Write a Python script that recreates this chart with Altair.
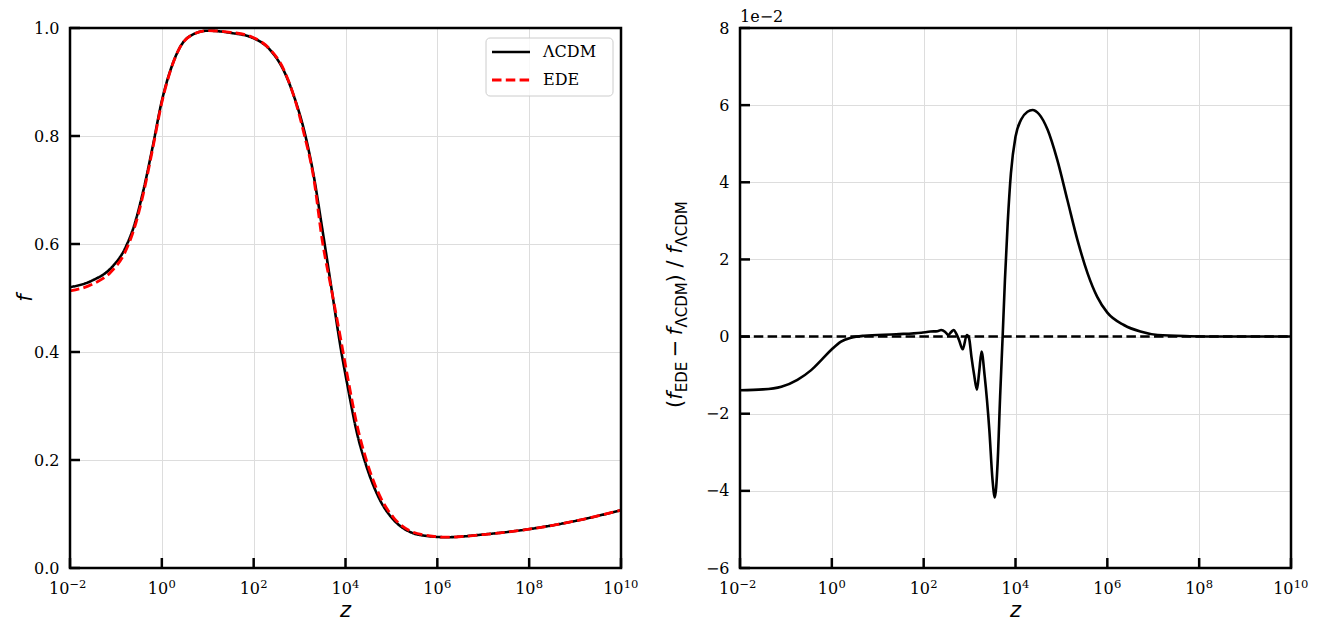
import altair as alt
import pandas as pd

# ---------------- data ----------------
left_logz = [-2, -1.5, -1.1, -0.8, -0.6, -0.4, -0.2, 0, 0.2, 0.4, 0.7, 1.0, 1.5, 2.0,
             2.35, 2.65, 2.9, 3.1, 3.3, 3.5, 3.7, 3.9, 4.05, 4.25, 4.45, 4.75, 5.05,
             5.4, 5.8, 6.2, 7.0, 8.0, 9.0, 10.0]
f_lcdm = [0.520, 0.533, 0.556, 0.592, 0.635, 0.700, 0.780, 0.865, 0.925, 0.965, 0.989,
          0.995, 0.991, 0.981, 0.960, 0.922, 0.868, 0.810, 0.730, 0.625, 0.515, 0.405,
          0.335, 0.250, 0.190, 0.126, 0.089, 0.067, 0.059, 0.057, 0.062, 0.072, 0.087, 0.107]
f_ede = [0.513, 0.526, 0.549, 0.585, 0.629, 0.694, 0.776, 0.862, 0.924, 0.965, 0.989,
         0.995, 0.992, 0.982, 0.961, 0.924, 0.867, 0.803, 0.726, 0.603, 0.513, 0.422,
         0.352, 0.265, 0.201, 0.133, 0.093, 0.069, 0.060, 0.057, 0.062, 0.072, 0.087, 0.107]

ratio_logz = [-2, -1.5, -1.1, -0.75, -0.45, -0.23, 0.0, 0.2, 0.42, 0.7, 1.4, 1.95, 2.15,
              2.3, 2.38, 2.47, 2.535, 2.6, 2.652, 2.72, 2.77, 2.85, 2.94, 2.99, 3.04,
              3.10, 3.16, 3.21, 3.26, 3.33, 3.43, 3.50, 3.55, 3.61, 3.665, 3.72, 3.77,
              3.83, 3.90, 4.0, 4.12, 4.26, 4.37, 4.51, 4.70, 4.91, 5.13, 5.35, 5.57,
              5.78, 6.0, 6.36, 6.72, 7.1, 7.8, 8.5, 10.0]
ratio_val = [-1.39, -1.37, -1.30, -1.12, -0.87, -0.61, -0.33, -0.13, -0.03, 0.02, 0.06,
             0.10, 0.13, 0.14, 0.17, 0.12, 0.04, 0.12, 0.17, 0.05, -0.09, -0.33, 0.04,
             -0.05, -0.52, -1.0, -1.38, -0.9, -0.39, -1.04, -2.42, -3.72, -4.17, -3.28,
             -1.56, 0.0, 1.47, 2.94, 4.23, 5.18, 5.62, 5.83, 5.875, 5.77, 5.36, 4.58,
             3.54, 2.5, 1.64, 1.03, 0.62, 0.30, 0.13, 0.04, 0.01, 0.0, 0.0]

x_ticks = [1e-2, 1e0, 1e2, 1e4, 1e6, 1e8, 1e10]
x_tick_exp = ["−2", "0", "2", "4", "6", "8", "10"]
y_ticks_left = [0.0, 0.2, 0.4, 0.6, 0.8, 1.0]
y_ticks_right = [-6, -4, -2, 0, 2, 4, 6, 8]
series = ["ΛCDM", "EDE"]

# ---------------- tables ----------------
left_df = pd.concat([
    pd.DataFrame({"z": [10 ** e for e in left_logz], "f": f_lcdm, "s": series[0]}),
    pd.DataFrame({"z": [10 ** e for e in left_logz], "f": f_ede, "s": series[1]}),
])
ratio_df = pd.DataFrame({"z": [10 ** e for e in ratio_logz], "r": ratio_val})
zero_df = pd.DataFrame({"z": [x_ticks[0], x_ticks[-1]], "r": [0, 0]})
xt_df = pd.DataFrame({"z": x_ticks, "base": "10", "sup": x_tick_exp,
                      "n": [len(s) for s in x_tick_exp]})
ylt_df = pd.DataFrame({"f": y_ticks_left})
yrt_df = pd.DataFrame({"r": y_ticks_right})
one = pd.DataFrame({"a": [0]})

W, H = 551, 540
SERIF = "DejaVu Serif"
SANS = "DejaVu Sans"
DASH = [9.5, 4.3]
TICK_COLOR = "black"
TICK_LEN = 10

xscale = alt.Scale(type="log", domain=[1e-2, 1e10], nice=False)
xaxis = alt.Axis(values=x_ticks, labels=False, title=None, grid=True, ticks=False, domain=False)
X = alt.X("z:Q", scale=xscale, axis=xaxis)


def yaxis(vals, fmt):
    return alt.Axis(values=vals, format=fmt, title=None, grid=True, ticks=False,
                    domain=False, labelFont=SERIF, labelFontSize=16, labelPadding=11,
                    labelColor="black")


YL = alt.Y("f:Q", scale=alt.Scale(domain=[0, 1], nice=False), axis=yaxis(y_ticks_left, ".1f"))
YR = alt.Y("r:Q", scale=alt.Scale(domain=[-6, 8], nice=False), axis=yaxis(y_ticks_right, "d"))


def frame_ticks_labels(yenc, ydf):
    layers = []
    layers.append(alt.Chart(ydf).mark_rule(color=TICK_COLOR, strokeWidth=2.5).encode(
        y=yenc, x=alt.value(0), x2=alt.value(TICK_LEN)))
    layers.append(alt.Chart(xt_df).mark_rule(color=TICK_COLOR, strokeWidth=2.5).encode(
        x=X, y=alt.value(H - TICK_LEN), y2=alt.value(H)))
    layers.append(alt.Chart(one).mark_rect(fill=None, stroke="black", strokeWidth=2.5).encode(
        x=alt.value(0), x2=alt.value(W), y=alt.value(0), y2=alt.value(H)))
    groups = [("datum.sup == '−2'", -10.8, -0.6),
              ("datum.n == 1", -3.8, 6.6),
              ("datum.sup == '10'", -7.7, 2.7)]
    for cond, dxb, dxs in groups:
        base = alt.Chart(xt_df).transform_filter(cond).mark_text(
            font=SERIF, fontSize=16, align="center", baseline="alphabetic", dx=dxb,
            color="black").encode(x=X, y=alt.value(H + 26), text="base:N")
        sup = alt.Chart(xt_df).transform_filter(cond).mark_text(
            font=SERIF, fontSize=11.5, align="left", baseline="alphabetic", dx=dxs,
            color="black").encode(x=X, y=alt.value(H + 20), text="sup:N")
        layers += [base, sup]
    layers.append(alt.Chart(one).mark_text(text="z", font=SANS, fontStyle="italic",
                                           fontSize=21, align="center", baseline="alphabetic",
                                           color="black").encode(
        x=alt.value(W / 2), y=alt.value(H + 49)))
    return layers


# ---------------- left panel ----------------
lines = alt.Chart(left_df).mark_line(interpolate="monotone").encode(
    x=X, y=YL,
    color=alt.Color("s:N", scale=alt.Scale(domain=series, range=["black", "red"]), legend=None),
    strokeDash=alt.StrokeDash("s:N", scale=alt.Scale(domain=series, range=[[1, 0], DASH]), legend=None),
    strokeWidth=alt.StrokeWidth("s:N", scale=alt.Scale(domain=series, range=[2.6, 2.8]), legend=None),
    order=alt.Order("z:Q"),
)
f_title = alt.Chart(one).mark_text(text="f", font=SANS, fontStyle="italic", fontSize=21,
                                   angle=270, align="center", baseline="middle",
                                   color="black").encode(x=alt.value(-44), y=alt.value(270))
leg_box = alt.Chart(one).mark_rect(fill="white", fillOpacity=0.8, stroke="#cccccc",
                                   strokeWidth=1, cornerRadius=4).encode(
    x=alt.value(416), x2=alt.value(543), y=alt.value(10), y2=alt.value(68))
leg_l1 = alt.Chart(one).mark_rule(color="black", strokeWidth=2.6).encode(
    x=alt.value(422), x2=alt.value(460), y=alt.value(24))
leg_l2 = alt.Chart(one).mark_rule(color="red", strokeWidth=2.8, strokeDash=DASH).encode(
    x=alt.value(422), x2=alt.value(460), y=alt.value(52))
leg_t1 = alt.Chart(one).mark_text(text=series[0], font=SERIF, fontSize=16, align="left",
                                  baseline="middle", color="black").encode(
    x=alt.value(473), y=alt.value(24))
leg_t2 = alt.Chart(one).mark_text(text=series[1], font=SERIF, fontSize=16, align="left",
                                  baseline="middle", color="black").encode(
    x=alt.value(473), y=alt.value(52))

left = alt.layer(lines, *frame_ticks_labels(YL, ylt_df), f_title, leg_box, leg_l1, leg_l2,
                 leg_t1, leg_t2).properties(width=W, height=H)

# ---------------- right panel ----------------
zero = alt.Chart(zero_df).mark_line(color="black", strokeWidth=2.5, strokeDash=DASH).encode(x=X, y=YR)
curve = alt.Chart(ratio_df).mark_line(color="black", strokeWidth=2.6, interpolate="monotone").encode(
    x=X, y=YR, order=alt.Order("z:Q"))
offset_txt = alt.Chart(one).mark_text(text="1e−2", font=SERIF, fontSize=16, align="left",
                                      baseline="alphabetic", color="black").encode(
    x=alt.value(0), y=alt.value(-6))

pieces = [("(", False, False, 376), ("f", False, True, 368), ("EDE", True, False, 349),
          ("−", False, False, 320.5), ("f", False, True, 303.5), ("ΛCDM", True, False, 277),
          (")", False, False, 250.5), ("/", False, False, 236), ("f", False, True, 222),
          ("ΛCDM", True, False, 196)]
title_layers = []
for txt, sub, ital, yc in pieces:
    title_layers.append(
        alt.Chart(one).mark_text(text=txt, font=SANS, fontStyle="italic" if ital else "normal",
                                 fontSize=15 if sub else 21, angle=270, align="center",
                                 baseline="middle", color="black").encode(
            x=alt.value(-58 if sub else -64), y=alt.value(yc)))

right = alt.layer(zero, curve, *frame_ticks_labels(YR, yrt_df), offset_txt,
                  *title_layers).properties(width=W, height=H)

chart = alt.hconcat(left, right, spacing=25).properties(
    padding={"left": 14, "top": 8, "right": 5, "bottom": 5}
).configure_view(stroke=None).configure_axis(
    gridColor="#a6a6a6", gridWidth=1, gridOpacity=1
).configure(background="white")

chart.save("out.html", embed_options={"renderer": "svg", "actions": False})
